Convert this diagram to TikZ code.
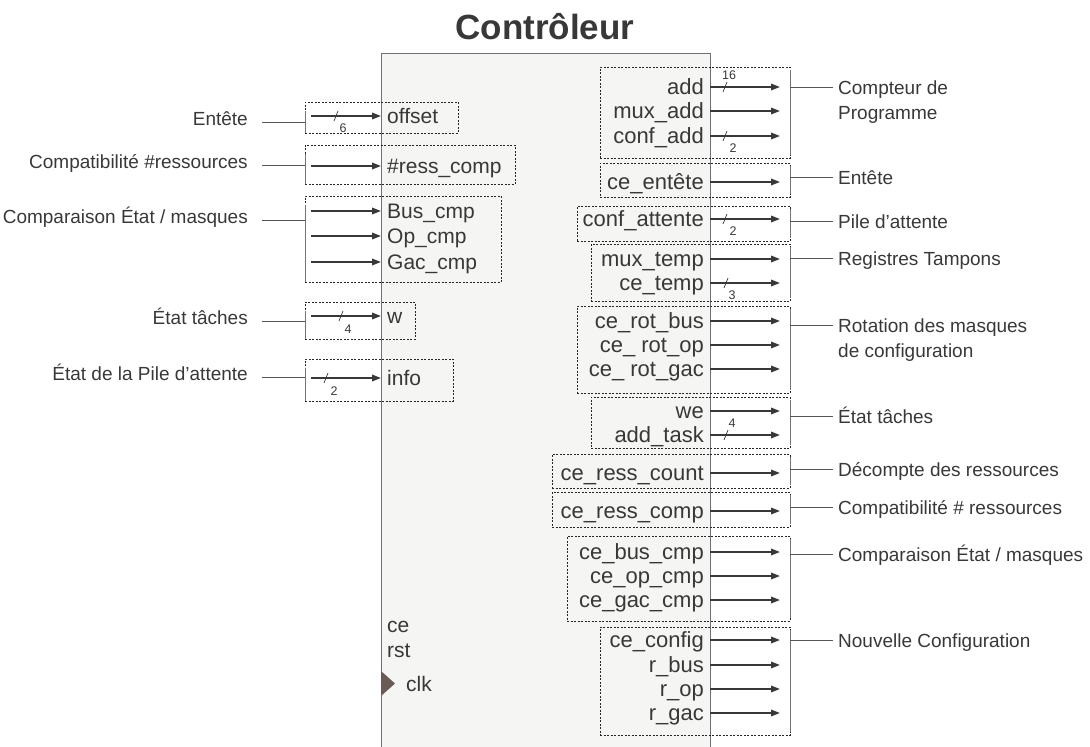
\documentclass[tikz,border=0pt]{standalone}
\usepackage{fontspec}
\setmainfont{Liberation Sans}
\usepackage{tikz}
\usetikzlibrary{arrows.meta, positioning}
\definecolor{ink}{HTML}{383838}
\definecolor{blkfill}{HTML}{F5F5F4}
\definecolor{blkline}{HTML}{707070}
\definecolor{clkfill}{HTML}{6B5B57}

\begin{document}
\begin{tikzpicture}[
  x=1pt, y=-1pt,
  blk/.style={draw=blkline, line width=1.3pt, fill=blkfill, inner sep=0pt},
  grp/.style={draw=black!85, dash pattern=on 2pt off 1.5pt, line width=0.6pt,
              inner sep=0pt, outer sep=0pt, anchor=north west},
  gbox/.style 2 args={grp, minimum width=#1, minimum height=#2},
  portr/.style={anchor=east, inner xsep=6pt, inner ysep=0pt, text height=15pt,
                text depth=1pt, font=\fontsize{22}{24}\selectfont, text=ink},
  portl/.style={portr, anchor=west, font=\fontsize{21}{24}\selectfont},
  noter/.style={anchor=base west, inner xsep=5pt, align=left,
                font=\fontsize{19}{25}\selectfont, text=ink},
  notel/.style={anchor=base east, inner xsep=14pt,
                font=\fontsize{19}{25}\selectfont, text=ink},
  sig/.style={-{Triangle[length=9pt, width=6.5pt]}, line width=1.8pt, draw=ink},
  lead/.style={draw=ink!85, line width=0.8pt},
  bar/.style={draw=ink!70, line width=0.8pt},
  bw/.style={font=\fontsize{12.5}{12.5}\selectfont, text=ink, inner sep=0pt},
  slash/.pic={\draw[ink, line width=0.7pt] (-2,5) -- (2,-5);}
]
\useasboundingbox (0,0) rectangle (1090,747);

% bloc controleur
\node[blk, anchor=north west, minimum width=329pt, minimum height=700pt] (ctl) at (381,53) {};
\node[font=\fontsize{35}{40}\selectfont\bfseries, text=ink] (ttl) at (545,27) {Contrôleur};

% groupes de sortie
\node[gbox={190pt}{91pt}]  (gPC)   at (600,67)  {};
\node[gbox={190pt}{34pt}]  (gEnt)  at (600,163) {};
\node[gbox={213pt}{35pt}]  (gPile) at (577,206) {};
\node[gbox={199pt}{57pt}]  (gReg)  at (591,244) {};
\node[gbox={213pt}{87pt}]  (gRot)  at (577,306) {};
\node[gbox={199pt}{51pt}]  (gEtat) at (591,397) {};
\node[gbox={238pt}{34pt}]  (gDec)  at (552,454) {};
\node[gbox={238pt}{35pt}]  (gComp) at (552,492) {};
\node[gbox={223pt}{85pt}]  (gMsk)  at (567,536) {};
\node[gbox={190pt}{108pt}] (gCfg)  at (600,627) {};

% groupes d'entree
\node[gbox={153pt}{31pt}] (gOff)  at (305,102) {};
\node[gbox={210pt}{39pt}] (gRes)  at (305,145) {};
\node[gbox={196pt}{86pt}] (gCmpL) at (305,196) {};
\node[gbox={110pt}{37pt}] (gW)    at (305,302) {};
\node[gbox={148pt}{42pt}] (gInfo) at (305,359) {};

% ports de sortie
\node[portr] (add)       at (710,87)  {add};
\node[portr] (muxadd)    at (710,111) {mux\_add};
\node[portr] (confadd)   at (710,136) {conf\_add};
\node[portr] (ceent)     at (710,182) {ce\_entête};
\node[portr] (confatt)   at (710,219) {conf\_attente};
\node[portr] (muxtemp)   at (710,259) {mux\_temp};
\node[portr] (cetemp)    at (710,283) {ce\_temp};
\node[portr] (rotbus)    at (710,321) {ce\_rot\_bus};
\node[portr] (rotop)     at (710,345) {ce\_ rot\_op};
\node[portr] (rotgac)    at (710,369) {ce\_ rot\_gac};
\node[portr] (we)        at (710,411) {we};
\node[portr] (addtask)   at (710,435) {add\_task};
\node[portr] (resscount) at (710,473) {ce\_ress\_count};
\node[portr] (resscomp)  at (710,511) {ce\_ress\_comp};
\node[portr] (buscmp)    at (710,552) {ce\_bus\_cmp};
\node[portr] (opcmp)     at (710,576) {ce\_op\_cmp};
\node[portr] (gaccmp)    at (710,600) {ce\_gac\_cmp};
\node[portr] (cfg)       at (710,640) {ce\_config};
\node[portr] (rbus)      at (710,665) {r\_bus};
\node[portr] (rop)       at (710,689) {r\_op};
\node[portr] (rgac)      at (710,713) {r\_gac};

% ports d'entree
\node[portl] (offset)   at (381,116) {offset};
\node[portl] (resscmpl) at (381,166) {\#ress\_comp};
\node[portl] (buscmpl)  at (381,211) {Bus\_cmp};
\node[portl] (opcmpl)   at (381,236) {Op\_cmp};
\node[portl] (gaccmpl)  at (381,262) {Gac\_cmp};
\node[portl] (w)        at (381,316) {w};
\node[portl] (info)     at (381,378) {info};
\node[portl] (ce)       at (381,625) {ce};
\node[portl] (rst)      at (381,650) {rst};
\node[portl] (clk)      at (400,684) {clk};
\fill[clkfill] (381,671) -- (395,683.5) -- (381,696) -- cycle;

% fleches
\coordinate (tipR) at (780,0);
\coordinate (tailL) at (311,0);
\foreach \p in {add,muxadd,confadd,ceent,confatt,muxtemp,cetemp,rotbus,rotop,rotgac,
                we,addtask,resscount,resscomp,buscmp,opcmp,gaccmp,cfg,rbus,rop,rgac}
  \draw[sig] (\p.east) -- (\p.east -| tipR);
\foreach \p in {offset,resscmpl,buscmpl,opcmpl,gaccmpl,w,info}
  \draw[sig] (tailL |- \p.west) -- (\p.west);

% largeurs de bus
\pic at ([xshift=15pt]add.east) {slash};
\node[bw] (b16) at ([xshift=19pt, yshift=12pt]add.east) {16};
\pic at ([xshift=15pt]confadd.east) {slash};
\node[bw] (b2a) at ([xshift=23pt, yshift=-12pt]confadd.east) {2};
\pic at ([xshift=15pt]confatt.east) {slash};
\node[bw] (b2b) at ([xshift=23pt, yshift=-12pt]confatt.east) {2};
\pic at ([xshift=16pt]cetemp.east) {slash};
\node[bw] (b3) at ([xshift=22pt, yshift=-12pt]cetemp.east) {3};
\pic at ([xshift=16pt]addtask.east) {slash};
\node[bw] (b4a) at ([xshift=22pt, yshift=12pt]addtask.east) {4};
\pic at ([xshift=-45pt]offset.west) {slash};
\node[bw] (b6) at ([xshift=-38pt, yshift=-12pt]offset.west) {6};
\pic at ([xshift=-40pt]w.west) {slash};
\node[bw] (b4b) at ([xshift=-33pt, yshift=-13pt]w.west) {4};
\pic at ([xshift=-55pt]info.west) {slash};
\node[bw] (b2c) at ([xshift=-47pt, yshift=-13pt]info.west) {2};

% annotations a droite
\node[noter] (nPC)   at (833,119) {Compteur de\\Programme};
\node[noter] (nEnt)  at (833,184) {Entête};
\node[noter] (nPile) at (833,228) {Pile d’attente};
\node[noter] (nReg)  at (833,265) {Registres Tampons};
\node[noter] (nRot)  at (833,357) {Rotation des masques\\de configuration};
\node[noter] (nEtat) at (833,423) {État tâches};
\node[noter] (nDec)  at (833,476) {Décompte des ressources};
\node[noter] (nComp) at (833,514) {Compatibilité \# ressources};
\node[noter] (nMsk)  at (833,561) {Comparaison État / masques};
\node[noter] (nCfg)  at (833,647) {Nouvelle Configuration};

\foreach \g in {gPC,gEnt,gPile,gReg,gRot,gEtat,gDec,gComp,gMsk,gCfg}
  \draw[bar] ([yshift=-3pt]\g.north east) -- ([yshift=3pt]\g.south east);
\foreach \g/\n in {gEnt/nEnt,gPile/nPile,gReg/nReg,gEtat/nEtat,
                   gDec/nDec,gComp/nComp,gMsk/nMsk,gCfg/nCfg}
  \draw[lead] ([yshift=7pt]\n.base west -| \g.east) -- ([yshift=7pt]\n.base west);
% notes sur deux lignes : trait sur la premiere ligne
\draw[lead] ([yshift=32pt]nPC.base west -| gPC.east) -- ([yshift=32pt]nPC.base west);
\draw[lead] ([yshift=32pt]nRot.base west -| gRot.east) -- ([yshift=32pt]nRot.base west);

% annotations a gauche
\node[notel] (nOff)  at (262,125) {Entête};
\node[notel] (nRes)  at (262,168) {Compatibilité \#ressources};
\node[notel] (nCmpL) at (262,223) {Comparaison État / masques};
\node[notel] (nW)    at (262,324) {État tâches};
\node[notel] (nInfo) at (262,380) {État de la Pile d’attente};

\foreach \g/\n in {gOff/nOff,gRes/nRes,gCmpL/nCmpL,gW/nW,gInfo/nInfo} {
  \draw[bar] ([yshift=-9pt]\g.north west) -- (\g.south west);
  \draw[lead] ([yshift=3pt]\n.base east) -- ([yshift=3pt]\n.base east -| \g.west);
}

\end{tikzpicture}
\end{document}
